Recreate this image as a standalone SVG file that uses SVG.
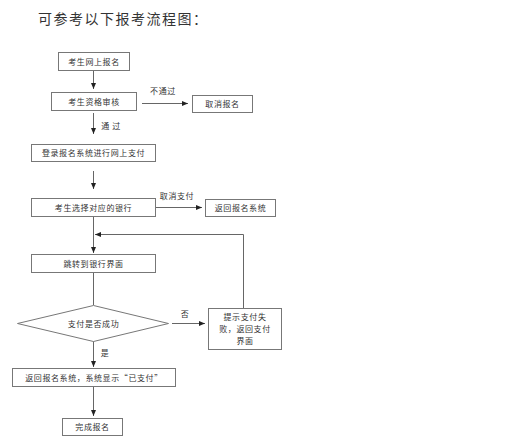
<svg xmlns="http://www.w3.org/2000/svg" width="514" height="440" viewBox="0 0 514 440">
<defs>
<marker id="ah" viewBox="0 0 6 6" refX="6" refY="3" markerWidth="6" markerHeight="6" markerUnits="userSpaceOnUse" orient="auto">
<path d="M0,0.5 L6,3 L0,5.5 Z" fill="#222"/>
</marker>
<style>
.box{fill:#fff;stroke:#777;stroke-width:1}
.t{font-family:"Noto Sans CJK SC","Noto Sans",sans-serif;font-size:8px;fill:#333;text-anchor:middle;letter-spacing:0.6px}
.ln{fill:none;stroke:#666;stroke-width:1}
.title{font-family:"Noto Sans CJK SC","Noto Sans",sans-serif;font-size:14px;fill:#333;letter-spacing:1.5px}
</style>
</defs>
<rect width="514" height="440" fill="#fff"/>
<text class="title" x="38" y="24">可参考以下报考流程图：</text>
<g id="connectors">
<line class="ln" x1="93.5" y1="71" x2="93.5" y2="89" marker-end="url(#ah)"/>
<line class="ln" x1="142" y1="103.5" x2="188" y2="103.5" marker-end="url(#ah)"/>
<text class="t" x="163" y="94">不通过</text>
<line class="ln" x1="93.5" y1="113" x2="93.5" y2="134" marker-end="url(#ah)"/>
<text class="t" x="111" y="129">通 过</text>
<line class="ln" x1="93.5" y1="171" x2="93.5" y2="189" marker-end="url(#ah)"/>
<line class="ln" x1="156" y1="207.5" x2="202" y2="207.5" marker-end="url(#ah)"/>
<text class="t" x="177" y="199">取消支付</text>
<line class="ln" x1="93.5" y1="216" x2="93.5" y2="253" marker-end="url(#ah)"/>
<polyline class="ln" points="243.5,308 243.5,234.5 95,234.5" marker-end="url(#ah)"/>
<line class="ln" x1="93.5" y1="272" x2="93.5" y2="305"/>
<line class="ln" x1="172" y1="323.5" x2="205" y2="323.5" marker-end="url(#ah)"/>
<text class="t" x="185" y="317">否</text>
<line class="ln" x1="93.5" y1="341" x2="93.5" y2="367" marker-end="url(#ah)"/>
<text class="t" x="105" y="356">是</text>
<line class="ln" x1="93.5" y1="387" x2="93.5" y2="416" marker-end="url(#ah)"/>
</g>
<g id="n1"><rect class="box" x="58.5" y="52.5" width="71" height="18"/><text class="t" x="94" y="64.5">考生网上报名</text></g>
<g id="n2"><rect class="box" x="51.5" y="92.5" width="85" height="18"/><text class="t" x="94" y="104.5">考生资格审核</text></g>
<g id="n3"><rect class="box" x="192.5" y="95.5" width="60" height="17"/><text class="t" x="222.5" y="107">取消报名</text></g>
<g id="n4"><rect class="box" x="31.5" y="144.5" width="124" height="17"/><text class="t" x="93.5" y="156">登录报名系统进行网上支付</text></g>
<g id="n5"><rect class="box" x="31.5" y="198.5" width="124" height="18"/><text class="t" x="93.5" y="210.5">考生选择对应的银行</text></g>
<g id="n6"><rect class="box" x="205.5" y="199.5" width="70" height="17"/><text class="t" x="240.5" y="211">返回报名系统</text></g>
<g id="n7"><rect class="box" x="31.5" y="254.5" width="124" height="18"/><text class="t" x="93.5" y="266.5">跳转到银行界面</text></g>
<g id="n8"><polygon class="box" points="17.5,323.5 93.5,305.5 168.5,323.5 93.5,341.5"/><text class="t" x="93.5" y="326.5">支付是否成功</text></g>
<g id="n9"><rect class="box" x="208.5" y="308.5" width="73" height="41"/><text class="t" x="245" y="320">提示支付失</text><text class="t" x="245" y="332">败，返回支付</text><text class="t" x="245" y="344">界面</text></g>
<g id="n10"><rect class="box" x="12.5" y="368.5" width="163" height="18"/><text class="t" x="94" y="380.5">返回报名系统，系统显示“已支付”</text></g>
<g id="n11"><rect class="box" x="62.5" y="418.5" width="60" height="17"/><text class="t" x="92.5" y="430">完成报名</text></g>
</svg>
